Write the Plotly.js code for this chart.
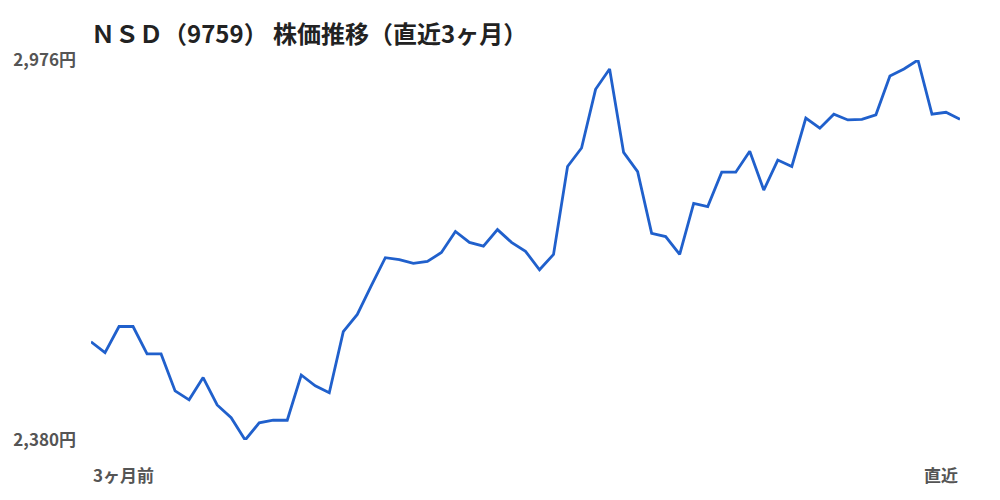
<!DOCTYPE html>
<html><head><meta charset="utf-8">
<script src="https://cdn.plot.ly/plotly-3.0.1.min.js"></script>
<style>html,body{margin:0;padding:0;background:#fff}#chart{width:1000px;height:500px}</style>
</head><body><div id="chart"></div>
<script>
const titleText = 'ＮＳＤ（9759） 株価推移（直近3ヶ月）';
const prices = [2534,2517,2558,2558,2515,2515,2457,2443,2478,2435,2415,2380,2407,2411,2411,2482,2465,2454,2550,2577,2622,2666,2663,2657,2660,2674,2707,2690,2684,2710,2690,2676,2647,2671,2809,2838,2930,2962,2831,2801,2704,2699,2671,2751,2746,2800,2800,2833,2772,2819,2809,2885,2869,2891,2882,2883,2890,2951,2962,2976,2891,2894,2883];
const yTickVals = [2380, 2976];
const yTickText = ['2,380円', '2,976円'];
const startLabel = '3ヶ月前';
const endLabel = '直近';

const days = prices.map((_, i) => i);
const font = '"Noto Sans CJK JP", "Noto Sans", sans-serif';

Plotly.newPlot('chart', [{
  x: days, y: prices, type: 'scatter', mode: 'lines',
  line: {color: '#2060cc', width: 2.8}, hoverinfo: 'skip'
}], {
  width: 1000, height: 500,
  margin: {l: 91, r: 40, t: 60, b: 60},
  paper_bgcolor: '#fff', plot_bgcolor: '#fff',
  showlegend: false,
  title: {text: '<b>' + titleText + '</b>', x: 0, xref: 'paper', xanchor: 'left', y: 0.93, yanchor: 'middle',
          font: {family: font, size: 24, color: '#222'}},
  xaxis: {range: [0, prices.length - 1], showgrid: false, zeroline: false, showline: false, showticklabels: false, ticks: ''},
  yaxis: {range: [yTickVals[0], yTickVals[1]], tickvals: yTickVals, ticktext: yTickText,
          showgrid: false, zeroline: false, showline: false, ticks: '', ticklabelstandoff: 14,
          tickfont: {family: font, size: 17, color: '#555', weight: 'bold'}},
  annotations: [
    {x: 0, xref: 'x', xanchor: 'left', y: -0.09, yref: 'paper', yanchor: 'middle', showarrow: false,
     text: '<b>' + startLabel + '</b>', font: {family: font, size: 17, color: '#555'}},
    {x: prices.length - 1, xref: 'x', xanchor: 'right', y: -0.09, yref: 'paper', yanchor: 'middle', showarrow: false,
     text: '<b>' + endLabel + '</b>', font: {family: font, size: 17, color: '#555'}}
  ]
}, {staticPlot: true, displayModeBar: false});
</script></body></html>
